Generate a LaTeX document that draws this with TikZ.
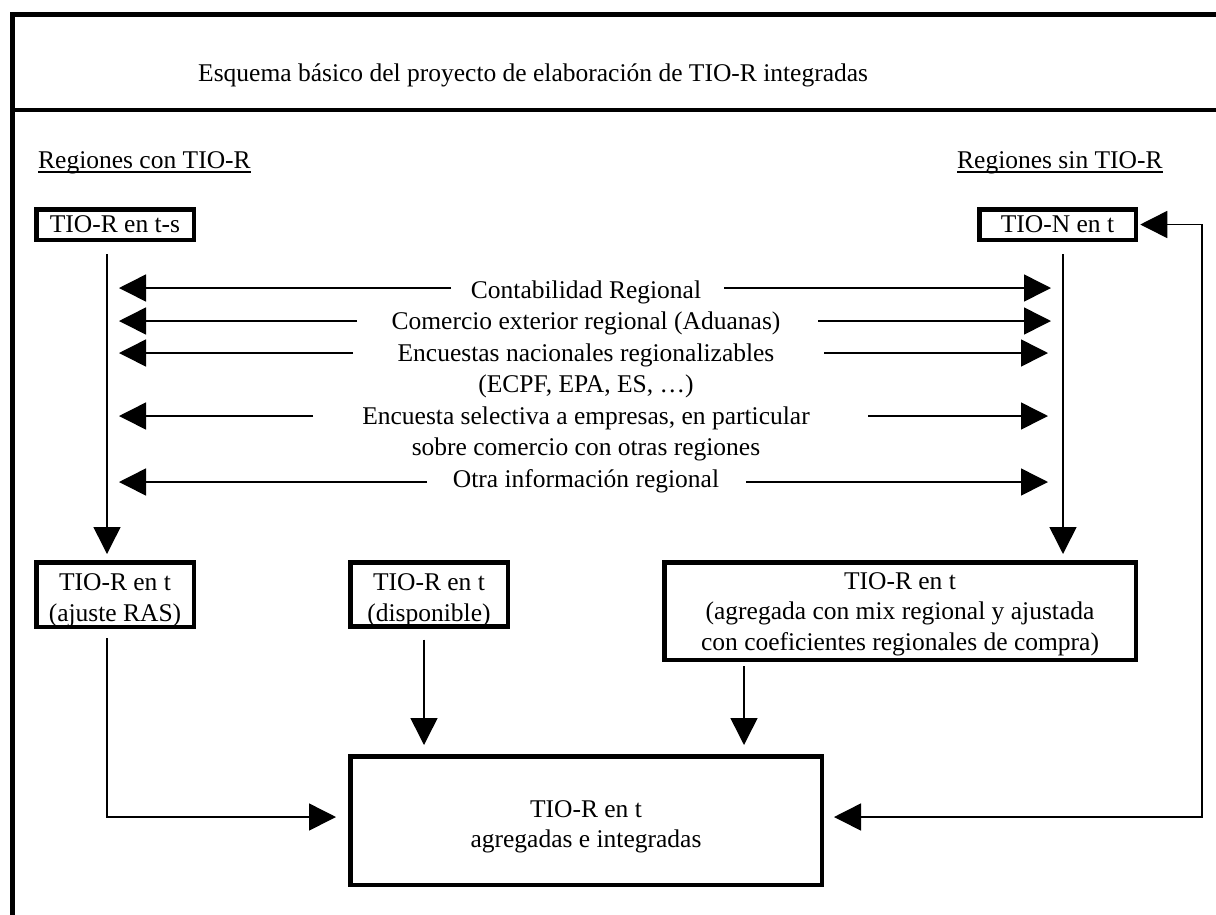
\documentclass[tikz,border=0pt]{standalone}
\usepackage{fontspec}
\setmainfont{Liberation Serif}
\usetikzlibrary{arrows.meta}
\newcommand{\lowr}[1]{\rule{0pt}{#1}}
\begin{document}
\begin{tikzpicture}[x=1pt,y=-1pt,
  every node/.style={font=\fontsize{25.5}{30.5}\selectfont},
  box/.style={draw, line width=4.5pt, inner sep=0pt, align=center},
  lbl/.style={inner sep=0pt, anchor=base},
  conn/.style={line width=1.5pt, -{Triangle[length=27pt,width=27pt]}},
  dconn/.style={line width=1.5pt, {Triangle[length=27pt,width=27pt]}-{Triangle[length=27pt,width=27pt]}},
  uline/.style={line width=1.5pt}
]
\useasboundingbox (0,0) rectangle (1216,914);
% frame
\draw[line width=5pt] (12.5,920) -- (12.5,14) -- (1220,14);
\draw[line width=4.5pt] (10,110) -- (1220,110);
% title
\node[lbl, anchor=base west] (title) at (198,81) {Esquema básico del proyecto de elaboración de TIO-R integradas};
% headings
\node[lbl, anchor=base west] (hcon) at (38,168) {Regiones con TIO-R};
\node[lbl, anchor=base west] (hsin) at (957,168) {Regiones sin TIO-R};
\draw[uline] ([yshift=-4pt]hcon.base west) -- ([yshift=-4pt]hcon.base east);
\draw[uline] ([yshift=-4pt]hsin.base west) -- ([yshift=-4pt]hsin.base east);
% boxes
\node[box, minimum width=157.5pt, minimum height=30.5pt] (tios) at (115,224.5) {TIO-R en t-s};
\node[box, minimum width=156.5pt, minimum height=30.5pt] (tion) at (1057.5,224.5) {TIO-N en t};
\node[box, minimum width=157.5pt, minimum height=64.5pt] (ras) at (115,594.5) {\lowr{28pt}TIO-R en t\\(ajuste RAS)};
\node[box, minimum width=157.5pt, minimum height=62.5pt] (disp) at (429,594.5) {\lowr{28pt}TIO-R en t\\(disponible)};
\node[box, minimum width=471.5pt, minimum height=97.5pt] (agr) at (900,611) {\lowr{23pt}TIO-R en t\\(agregada con mix regional y ajustada\\con coeficientes regionales de compra)};
\node[box, minimum width=471.5pt, minimum height=128.5pt] (fin) at (586,820.5) {\lowr{29pt}TIO-R en t\\agregadas e integradas};
% central texts
\node[lbl] (t1) at (586,298) {Contabilidad Regional};
\node[lbl] (t2) at (586,329.5) {Comercio exterior regional (Aduanas)};
\node[lbl] (t3) at (586,361) {Encuestas nacionales regionalizables};
\node[lbl] (t3b) at (586,392.5) {(ECPF, EPA, ES, …)};
\node[lbl] (t4) at (586,424) {Encuesta selectiva a empresas, en particular};
\node[lbl] (t4b) at (586,455.5) {sobre comercio con otras regiones};
\node[lbl] (t5) at (586,487) {Otra información regional};
% horizontal arrows
\coordinate (l1) at (119,288); \coordinate (a1) at (451,288); \coordinate (b1) at (724,288); \coordinate (r1) at (1051,288);
\coordinate (l2) at (119,321); \coordinate (a2) at (357,321); \coordinate (b2) at (818,321); \coordinate (r2) at (1051,321);
\coordinate (l3) at (119,353); \coordinate (a3) at (353,353); \coordinate (b3) at (824,353); \coordinate (r3) at (1048,353);
\coordinate (l4) at (119,416); \coordinate (a4) at (313,416); \coordinate (b4) at (868,416); \coordinate (r4) at (1048,416);
\coordinate (l5) at (119,482); \coordinate (a5) at (427,482); \coordinate (b5) at (746,482); \coordinate (r5) at (1048,482);
\foreach \i in {1,...,5}{
  \draw[conn] (a\i) -- (l\i);
  \draw[conn] (b\i) -- (r\i);
}
% vertical arrows
\draw[conn, shorten <=12pt, shorten >=6pt] ([xshift=-8pt]tios.south) -- ([xshift=-8pt]tios.south |- ras.north);
\draw[conn, shorten <=12pt, shorten >=6pt] ([xshift=5.5pt]tion.south) -- ([xshift=5.5pt]tion.south |- agr.north);
\draw[conn, shorten <=11pt, shorten >=9pt] ([xshift=-5pt]disp.south) -- ([xshift=-5pt]disp.south |- fin.north);
\draw[conn, shorten <=4pt, shorten >=9pt] ([xshift=-156pt]agr.south) -- ([xshift=-156pt]agr.south |- fin.north);
% to final box
\draw[conn, shorten <=9pt, shorten >=12pt] ([xshift=-8pt]ras.south) |- ([yshift=3.5pt]fin.west);
\coordinate (rc) at (1202,817);
\draw[dconn, shorten >=10pt] ([xshift=2.25pt]tion.east) -| (rc) -- ([yshift=3.5pt]fin.east);
\end{tikzpicture}
\end{document}
